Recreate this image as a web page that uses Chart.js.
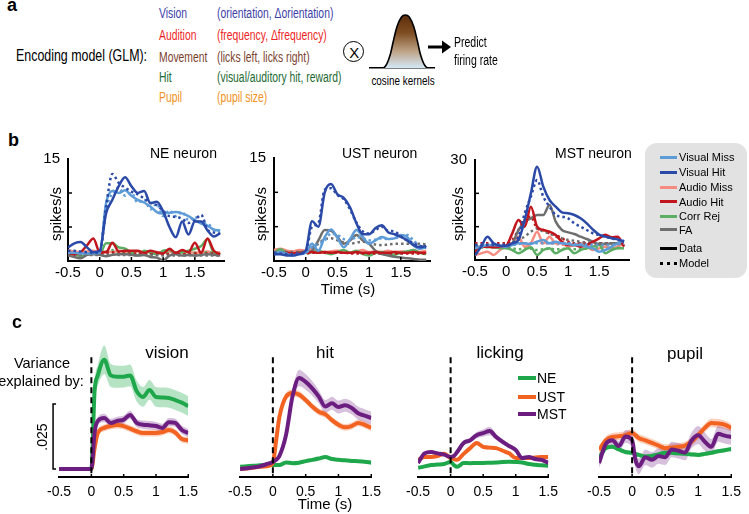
<!DOCTYPE html>
<html><head><meta charset="utf-8">
<script src="https://cdn.jsdelivr.net/npm/chart.js@4.4.1/dist/chart.umd.min.js"></script>
<style>
html,body{margin:0;padding:0;background:#fff;}
body{width:749px;height:514px;position:relative;overflow:hidden;font-family:"Liberation Sans",Arial,sans-serif;color:#000;}
.t{position:absolute;white-space:nowrap;line-height:1;}
canvas{position:absolute;}
</style></head><body>
<script>
// ---------------- DATA ----------------
// panel a: cosine kernel shape
const kernelLag = [-1.05,-0.66,-0.55,-0.45,-0.36,-0.25,-0.12,0,0.12,0.25,0.36,0.45,0.55,0.66,0.85];
const kernelWeight = [0,0,0.08,0.25,0.5,0.78,0.96,1,0.96,0.78,0.5,0.25,0.08,0,0];

// panel b: example neurons (spikes/s)
const bTime = [-0.5,-0.4,-0.3,-0.2,-0.1,0,0.1,0.2,0.3,0.4,0.5,0.6,0.7,0.8,0.9,1.0,1.1,1.2,1.3,1.4,1.5,1.6,1.7,1.8,1.9];
const bTicks = [-0.5,0,0.5,1,1.5];
const bTickLabels = ['-0.5','0','0.5','1','1.5'];

const neVisMiss      = [1.2,1.2,1.1,1.1,1.1,1.2,8.5,10.3,10,10.4,9.6,9,8.6,8,7.2,7,7.1,7.2,7,6.6,6,5.5,5.2,4.6,4.5];
const neVisMissModel = [1.3,1.3,1.2,1.2,1.2,1.3,7.5,10,10.8,9.6,10,8.6,9,7.6,8.4,6.6,7.4,6.6,7.2,6,6.5,5.6,5.5,4.6,4.4];
const neVisHit       = [2,2.6,2.8,2,1.3,1.5,7,9,11,12.3,11,10,10.3,8.5,8.7,7.3,5,3.5,5.8,3.9,5.8,5.8,4.5,3.6,4.1];
const neVisHitModel  = [1.5,1.5,1.4,1.3,1.2,1.3,8,12.8,11.5,10.8,10.2,9.8,9.2,8.6,8.2,7.4,6.6,6.5,6.2,5.6,6,6.8,4.6,4.2,4];
const neAudMiss      = [1.6,1.4,1.3,1.4,1.5,1.3,1.4,1.3,1.5,1.4,1.3,1.4,1.3,1.4,1.2,1.3,1.4,1.2,1.3,1.3,1.2,1.3,1.4,1.2,1.3];
const neAudMissModel = [1.4,1.3,1.3,1.3,1.3,1.3,1.3,1.2,1.3,1.3,1.3,1.3,1.2,1.3,1.2,1.3,1.3,1.2,1.2,1.3,1.2,1.2,1.3,1.2,1.2];
const neAudHit       = [1.2,1,1.3,2.3,3.3,1.3,1.3,2.7,1.4,1.5,1.5,1.5,1.2,1.5,1.3,1.1,1.8,1.2,1.6,1.3,2.7,1.2,3.3,1.5,1];
const neAudHitModel  = [1,1,1,1,1.1,1.1,1.2,1.3,1.1,1.1,1.1,1.1,1.1,1,1,1,1,1,1,1,1.1,1.1,1.1,1.1,1];
const neCorrRej      = [0.9,1,0.7,1,1.2,1,2.6,2.6,2,1.8,1.2,0.8,1.5,1.2,1,1.5,1.6,1.2,1.3,1.5,1.8,2.2,3.2,1.2,1];
const neCorrRejModel = [1,1,1,1,1,1,1.4,1.6,1.4,1.3,1.2,1.1,1.1,1.1,1.1,1.1,1.1,1.1,1.2,1.2,1.2,1.3,1.3,1.1,1];
const neFA           = [0.8,0.6,0.4,0.9,1,0.9,0.7,0.9,1,1,0.9,0.8,0.9,0.6,0.5,0.1,0.8,1,0.8,0.9,0.8,0.9,1,0.9,0.8];
const neFAModel      = [0.9,0.9,0.9,0.9,0.9,0.9,0.9,1,0.9,0.9,0.9,0.9,0.9,0.9,0.85,0.8,0.8,0.8,0.8,0.85,0.8,0.8,0.8,0.8,0.8];

const ustVisMiss      = [1.1,1.3,1,0.8,1,1.2,2.5,1.5,3.5,4.6,3.4,2,3.2,4.5,3.5,2.5,3,3.5,3.2,3.3,3.8,3.5,2.3,1.8,2];
const ustVisMissModel = [1.2,1.2,1.1,1,1.1,1.2,2,2.5,3,4,3.8,3.2,3,3.5,3.3,3,3.1,3.3,3.2,3.3,3.5,3.8,3,2.2,2];
const ustVisHit       = [1,1,0.8,0.8,1,1.5,5.8,5,10,11.2,9.7,9.2,7.8,5.5,3.9,3.9,4.8,5.2,4.2,3.9,3.5,3,2.3,2,2.2];
const ustVisHitModel  = [1.2,1.1,1,1,1.1,1.4,5,5.5,10.4,10.6,9.6,9,7.5,5.6,4.3,4,4.5,5,4.4,4.3,3.6,3,2.6,2.2,2];
const ustAudMiss      = [1.6,1.8,1.5,1.4,1.6,1.5,1.8,1.5,1.3,1.4,1.5,1.3,1.2,1.4,1.6,1.3,1.4,1.3,1.5,1.3,1.4,1.3,1.6,1.3,1.5];
const ustAudMissModel = [1.3,1.3,1.3,1.3,1.3,1.3,1.3,1.3,1.3,1.3,1.3,1.2,1.2,1.2,1.2,1.2,1.2,1.2,1.2,1.3,1.3,1.3,1.3,1.3,1.3];
const ustAudHit       = [1.2,1.1,1.2,1.1,1.2,1.2,1.3,1.2,1.3,1.2,1.3,1.2,1.2,1.3,1.2,1.2,1.3,1.2,1.2,1.3,1.2,1.2,1.3,1.2,1.2];
const ustAudHitModel  = [1.1,1.1,1.1,1.1,1.1,1.1,1.2,1.2,1.2,1.2,1.2,1.2,1.1,1.1,1.1,1.1,1.1,1.1,1.1,1.1,1.1,1.1,1.1,1.1,1.1];
const ustCorrRej      = [1.2,1.7,1.2,1,1.3,1.2,1.3,1.5,1.2,1,1.3,1.6,1.2,1.5,1,0.8,1.2,1.3,1,0.9,1.2,1.4,1.6,1.2,1];
const ustCorrRejModel = [1.1,1.2,1.1,1.1,1.1,1.1,1.2,1.2,1.2,1.1,1.2,1.2,1.2,1.2,1.1,1.1,1.1,1.1,1.1,1.1,1.1,1.2,1.2,1.1,1.1];
const ustFA           = [1,1.1,1.2,1,1.1,1.3,1.5,3,4.5,4.4,3.5,2.5,3,3.8,3,2.5,1.5,1,0.8,0.6,0.5,0.4,0.3,0.2,0.2];
const ustFAModel      = [1.3,1.3,1.3,1.3,1.3,1.5,2,2.5,3.2,3.3,3,2.7,2.5,2.7,2.8,2.6,2.4,2.3,2.4,2.5,2.5,2.5,2.5,2.5,2.4];

const mstVisMiss      = [3.5,4,4.5,4.5,4.2,4,4.5,5,5,4.8,5.5,6,5,5.5,5,4.8,4.5,4.5,4,3.5,2.5,3,4,5,6];
const mstVisMissModel = [4.5,4.5,4.5,4.5,4.5,4.5,4.5,4.8,5,5,5,5,5,5,5,5,4.8,4.8,4.6,4.6,4.5,4.5,4.5,4.8,5];
const mstVisHit       = [1.4,4,7,5,4.3,4.3,5,6,12,20,28,22,18,16,14.3,14,13.5,12.5,11,9.1,7.6,7,6.5,6.2,5.5];
const mstVisHitModel  = [4.5,4.5,4.5,4.5,4.5,4.5,5,7,14,19,24,19,16,13.5,13,12.5,11,10,9,8,7.5,7,6.5,6,5.5];
const mstAudMiss      = [1.5,2,2.5,1.5,3,4,5,7,4,5,8.5,5,7,5,5,4,4.5,5,4,3,3.5,4,3.5,4,5];
const mstAudMissModel = [3.5,3.8,4,4,4,4,4.5,5,5,5,5.5,5,5,4.8,4.6,4.5,4.5,4.5,4.5,4.5,4.5,4.5,4.5,4.5,4.5];
const mstAudHit       = [2.5,4,4,3.8,4,4.3,8,12,10,16,10,9,8.5,7.5,5.5,4.5,4.5,4,4.5,5.5,6.5,7.6,6.8,7,4];
const mstAudHitModel  = [5,5,5,5,5,5,6,9,12,13,9.5,9,8,7.5,6.5,5.5,5,5,5,5,5,5,5,5,5];
const mstCorrRej      = [3.5,3.8,4,3.8,3.6,3.5,3,2,3,3.8,1.5,3,3.5,2,3,3.5,2,3,3.5,4,4.5,2,3,3.5,3.5];
const mstCorrRejModel = [3.8,3.8,3.8,3.8,3.8,3.8,3.5,3.2,3.4,3.4,3,3.2,3.4,3.2,3.3,3.4,3.2,3.3,3.5,3.6,3.8,3.4,3.4,3.6,3.6];
const mstFA           = [4,4,4,4,4,4,5,9,11.5,12.5,13.5,13.5,16.5,11.5,9,8.3,7.8,7,6.3,5.5,4.8,4.8,5,5,5];
const mstFAModel      = [4,4,4,4,4,4,4.5,6,7,8.5,9.5,8.5,8,7,6.5,6,5.8,5.5,5.3,5.2,5,5,5,5,5];

// panel c: variance explained (units of 0.001)
const cTime = [-0.5,-0.4,-0.3,-0.2,-0.1,0,0.05,0.1,0.2,0.3,0.4,0.5,0.6,0.7,0.8,0.9,1.0,1.1,1.2,1.3,1.4,1.5];
const cTicks = [-0.5,0,0.5,1,1.5];
const cTickLabels = ['-0.5','0','0.5','1','1.5'];

const visionNE     = [0,0,0,0,0,0,30,36,42,36,35.5,35.5,36,30,27.7,30.4,27.7,27.5,27.3,26.5,25.5,24.2];
const visionNEErr  = [0,0,0,0,0,0,3,4,5.5,4.5,4.3,4.2,4.2,4,3.8,3.8,3.8,3.8,3.8,3.8,3.8,3.8];
const visionUST    = [0,0,0,0,0,0,8,13.8,15.8,16.5,16.9,16.5,15.5,14.5,13.8,13.8,13.8,14.2,15,14,11.5,11];
const visionUSTErr = [0,0,0,0,0,0,1,1.2,1.3,1.3,1.3,1.3,1.3,1.3,1.3,1.3,1.3,1.3,1.3,1.3,1.3,1.3];
const visionMST    = [0,0,0,0,0,0,14,18.5,19.6,17.7,18.5,19,20.8,17.7,17,16.8,16.5,15.8,18,17.7,15,13.8];
const visionMSTErr = [0,0,0,0,0,0,1.2,1.5,1.6,1.6,1.6,1.6,1.6,1.6,1.6,1.6,1.6,1.6,1.6,1.6,1.6,1.6];

const hitNE     = [0.8,1,1.2,1.4,1.5,1.5,1.5,1.5,2.5,2.2,2.4,3,3.5,4,4.6,3.8,3.5,3.3,3.1,3,2.8,2.4];
const hitNEErr  = [0.3,0.3,0.3,0.3,0.3,0.3,0.3,0.3,0.4,0.4,0.4,0.4,0.4,0.4,0.4,0.4,0.4,0.4,0.4,0.4,0.4,0.4];
const hitUST    = [0,0.2,0.5,0.8,1,2.3,11,20,27.8,29.2,28.6,26.5,24,22,21,18.8,17,16,16.5,17.7,17,15.8];
const hitUSTErr = [0.3,0.3,0.3,0.3,0.3,0.4,1,1.2,1.4,1.4,1.4,1.3,1.3,1.3,1.3,1.3,1.3,1.3,1.3,1.3,1.3,1.3];
const hitMST    = [0,0.3,0.6,1,1.8,2.7,3.5,5,13,28,35,33.5,31,27.8,24,25.3,23.8,24.5,23.5,21.4,20.5,19.6];
const hitMSTErr = [0.3,0.3,0.3,0.3,0.3,0.4,0.6,0.8,1.5,2.5,3.2,3,2.8,2.5,2.5,2.5,2.5,2.5,2.5,2.5,2.5,2.5];

const lickNE     = [0.4,1,1.5,1.7,1.9,2.7,1.5,0.8,2.3,2.2,2.3,2.3,2.4,2.5,2.7,2.8,2.7,2.5,1.9,1.6,1.4,1.2];
const lickNEErr  = [0.3,0.3,0.3,0.3,0.3,0.3,0.3,0.3,0.3,0.3,0.3,0.3,0.3,0.3,0.3,0.3,0.3,0.3,0.3,0.3,0.3,0.3];
const lickUST    = [3.5,4.6,4.6,5,5.8,4.2,3.8,3.5,5.8,8,10,8.5,8.2,8,7,6,4.2,4.2,4.2,4.4,4.6,4.6];
const lickUSTErr = [0.5,0.5,0.5,0.5,0.5,0.5,0.5,0.5,0.6,0.6,0.7,0.7,0.7,0.6,0.6,0.6,0.5,0.5,0.5,0.5,0.5,0.5];
const lickMST    = [2.3,6,6.5,6,5.5,4.6,5,6.5,10,11,13,13.8,14.6,12.3,10.4,8.8,7.3,4.2,4.6,3.8,3.5,2.3];
const lickMSTErr = [0.6,0.6,0.6,0.6,0.6,0.6,0.6,0.7,0.9,1,1.2,1.4,1.6,1.2,1,0.9,0.8,0.7,0.6,0.6,0.6,0.6];

const pupilNE     = [4.2,8,8.5,7.5,6.5,6.2,5.8,5.4,4.8,5,5.6,6.2,6.2,6,5.8,5.6,5.4,5.8,6.2,6.8,7.2,7.7];
const pupilNEErr  = [0.8,0.8,0.8,0.8,0.8,0.8,0.8,0.8,0.8,0.8,0.8,0.8,0.8,0.8,0.8,0.8,0.8,0.8,0.8,0.8,0.8,0.8];
const pupilUST    = [7.3,11,12.3,12.6,13,13.8,13,11.9,11,10,9,8,8.3,8.5,9,10.5,13,15.8,17.7,17.5,17,15.8];
const pupilUSTErr = [1.5,1.5,1.5,1.5,1.5,1.5,1.5,1.5,1.5,1.5,1.5,1.5,1.5,1.5,1.5,1.5,1.5,1.6,1.7,1.7,1.6,1.5];
const pupilMST    = [2.3,9.5,11,8.8,12.5,11,3.5,1,4.5,3.5,5,4.5,7.5,7,6.3,11,13,10.5,8.5,13.5,12.8,12.3];
const pupilMSTErr = [2,2,2,2,2.5,3,3,3,3,3,3,3,3,3,3,3,3.5,3.5,3,3,3,3];

// ---------------- STYLE ----------------
const COL = {vm:'#5e9cd8', vh:'#2b4aa8', am:'#f68b7f', ah:'#c1161d', cr:'#5bae63', fa:'#6e6e6e'};
const CC = {NE:'#1fa84b', UST:'#f26322', MST:'#6c1d80'};
const CB = {NE:'rgba(31,168,75,0.32)', UST:'rgba(242,99,34,0.30)', MST:'rgba(108,29,128,0.28)'};
const FONT = '"Liberation Sans", Arial, sans-serif';
Chart.defaults.font.family = FONT;
Chart.defaults.color = '#000';
Chart.defaults.animation = false;

const axisDecor = {
  id: 'axisDecor',
  afterDraw(chart, args, o) {
    if (!o) return;
    const ctx = chart.ctx, xs = chart.scales.x, ys = chart.scales.y, a = chart.chartArea;
    ctx.save();
    ctx.strokeStyle = '#000';
    ctx.lineWidth = 1.5;
    const len = o.len || 4;
    (o.xTicks || []).forEach(v => { const px = xs.getPixelForValue(v); ctx.beginPath(); ctx.moveTo(px, a.bottom + 1); ctx.lineTo(px, a.bottom - len); ctx.stroke(); });
    (o.yTicks || []).forEach(v => { const py = ys.getPixelForValue(v); ctx.beginPath(); ctx.moveTo(a.left - 1, py); ctx.lineTo(a.left + len, py); ctx.stroke(); });
    if (o.zeroDash) {
      const px = xs.getPixelForValue(0);
      ctx.setLineDash([6, 4]); ctx.lineWidth = 2;
      ctx.beginPath(); ctx.moveTo(px, ys.getPixelForValue(o.dashTop)); ctx.lineTo(px, a.bottom); ctx.stroke();
      ctx.setLineDash([]);
    }
    if (o.scaleBar) {
      const x = a.left - 6, y0 = ys.getPixelForValue(o.scaleBar[0]), y1 = ys.getPixelForValue(o.scaleBar[1]);
      ctx.lineWidth = 1.5;
      ctx.beginPath(); ctx.moveTo(x + 3, y0); ctx.lineTo(x, y0); ctx.lineTo(x, y1); ctx.lineTo(x + 3, y1); ctx.stroke();
    }
    ctx.restore();
  }
};
Chart.register(axisDecor);

function makeChart(rect, m, yAxisW, config) {
  const c = document.createElement('canvas');
  const W = rect.r - rect.l + m.l + m.r, H = rect.b - rect.t + m.t + m.b;
  c.width = Math.round(W); c.height = Math.round(H);
  c.style.left = (rect.l - m.l) + 'px'; c.style.top = (rect.t - m.t) + 'px';
  c.style.width = Math.round(W) + 'px'; c.style.height = Math.round(H) + 'px';
  document.body.appendChild(c);
  config.options.responsive = false;
  config.options.animation = false;
  config.options.events = [];
  config.options.layout = {padding: {left: m.l - yAxisW, top: m.t, right: m.r, bottom: 0}};
  return new Chart(c, config);
}

function txt(s, x, y, o) {
  o = o || {};
  const d = document.createElement('div');
  d.className = 't';
  d.textContent = s;
  d.style.left = x + 'px'; d.style.top = y + 'px';
  d.style.fontSize = (o.size || 14) + 'px';
  if (o.bold) d.style.fontWeight = 'bold';
  if (o.color) d.style.color = o.color;
  const sx = o.sx || 1;
  if (o.rot) { d.style.transformOrigin = 'center center'; d.style.transform = 'translate(-50%,-50%) rotate(-90deg)'; }
  else if (o.anchor === 'c') { d.style.transformOrigin = 'center center'; d.style.transform = 'translate(-50%,-50%) scaleX(' + sx + ')'; }
  else { d.style.transformOrigin = 'left center'; d.style.transform = 'translateY(-50%) scaleX(' + sx + ')'; }
  document.body.appendChild(d);
  return d;
}
function box(x, y, w, h, css) {
  const d = document.createElement('div');
  d.style.position = 'absolute';
  d.style.left = x + 'px'; d.style.top = y + 'px'; d.style.width = w + 'px'; d.style.height = h + 'px';
  Object.assign(d.style, css || {});
  document.body.appendChild(d);
  return d;
}

// ---------------- PANEL a ----------------
txt('a', 7, 4.5, {size:18, bold:true});
txt('Encoding model (GLM):', 16, 55, {size:17, sx:0.73});
const aRows = [
  ['Vision', '(orientation, \u0394orientation)', '#3d40a8', 13],
  ['Audition', '(frequency, \u0394frequency)', '#ec1f26', 35],
  ['Movement', '(licks left, licks right)', '#7b3f2e', 56.5],
  ['Hit', '(visual/auditory hit, reward)', '#1c6a32', 77],
  ['Pupil', '(pupil size)', '#f0921d', 97]
];
aRows.forEach(r => { txt(r[0], 159, r[3], {size:14, sx:0.74, color:r[2]}); txt(r[1], 217, r[3], {size:14, sx:0.74, color:r[2]}); });
box(343, 41, 19, 19, {border:'1.6px solid #000', borderRadius:'50%'});
txt('X', 354.3, 51.8, {size:15, anchor:'c'});
makeChart({l:370, r:434, t:14, b:68}, {l:2, t:2, r:2, b:2}, 0, {
  type: 'line',
  data: {datasets: [{
    data: kernelLag.map((t, i) => ({x: t, y: kernelWeight[i]})),
    borderColor: '#000', borderWidth: 1.6, pointRadius: 0, tension: 0.35,
    fill: 'origin',
    backgroundColor: (ctx) => {
      const ch = ctx.chart, ar = ch.chartArea;
      if (!ar) return '#a07040';
      const g = ch.ctx.createLinearGradient(0, ar.top, 0, ar.bottom);
      g.addColorStop(0, '#5a2c0a'); g.addColorStop(0.35, '#7e4d22'); g.addColorStop(0.7, '#bfa58a'); g.addColorStop(1, '#d4e9f8');
      return g;
    }
  }]},
  options: {
    plugins: {legend: {display: false}, tooltip: {enabled: false}, axisDecor: false},
    scales: {
      x: {type: 'linear', min: -1.05, max: 0.85, afterFit: s => { s.height = 2; },
          grid: {display: true, drawOnChartArea: false, drawTicks: false}, border: {display: true, color: '#000', width: 1.6},
          ticks: {display: false}},
      y: {display: false, min: 0, max: 1.02}
    }
  }
});
txt('cosine kernels', 403, 80, {size:13, sx:0.76, anchor:'c'});
(function(){
  const s = document.createElementNS('http://www.w3.org/2000/svg', 'svg');
  s.setAttribute('width', '30'); s.setAttribute('height', '16');
  s.style.position = 'absolute'; s.style.left = '428px'; s.style.top = '39px';
  s.innerHTML = '<line x1="0" y1="8" x2="16" y2="8" stroke="#000" stroke-width="3"/><polygon points="14,1.5 23,8 14,14.5" fill="#000"/>';
  document.body.appendChild(s);
})();
txt('Predict', 454, 42, {size:14, sx:0.75});
txt('firing rate', 454, 60, {size:14, sx:0.75});

// ---------------- PANEL b ----------------
txt('b', 8, 140, {size:18, bold:true});
function neuronChart(rect, xMax, yMax, yInner, S) {
  const spec = [
    [S.am, COL.am, false, 12], [S.amM, COL.am, true, 11],
    [S.cr, COL.cr, false, 10], [S.crM, COL.cr, true, 9],
    [S.fa, COL.fa, false, 6], [S.faM, COL.fa, true, 7],
    [S.ah, COL.ah, false, 5], [S.ahM, COL.ah, true, 8],
    [S.vm, COL.vm, false, 4], [S.vmM, COL.vm, true, 3],
    [S.vh, COL.vh, false, 1], [S.vhM, COL.vh, true, 2]
  ];
  const datasets = spec.map(s => ({
    data: bTime.map((t, i) => ({x: t, y: s[0][i]})),
    borderColor: s[1], borderWidth: 2.5, borderDash: s[2] ? [2.5, 3] : [],
    pointRadius: 0, fill: false, cubicInterpolationMode: 'monotone', order: s[3]
  }));
  return makeChart(rect, {l:30, t:12, r:4, b:25}, 30, {
    type: 'line',
    data: {datasets},
    options: {
      plugins: {legend: {display: false}, tooltip: {enabled: false}, axisDecor: {xTicks: [0, 0.5, 1, 1.5], yTicks: yInner, len: 4}},
      scales: {
        x: {type: 'linear', min: -0.5, max: xMax,
            afterBuildTicks: s => { s.ticks = bTicks.map(v => ({value: v})); },
            afterFit: s => { s.height = 25; },
            grid: {display: true, drawOnChartArea: false, drawTicks: false},
            border: {display: true, color: '#000', width: 2},
            ticks: {font: {size: 15}, padding: 3, maxRotation: 0, autoSkip: false,
                    callback: (v) => bTickLabels[bTicks.indexOf(v)]}},
        y: {type: 'linear', min: 0, max: yMax,
            afterBuildTicks: s => { s.ticks = [0, yMax].map(v => ({value: v})); },
            afterFit: s => { s.width = 30; },
            grid: {display: true, drawOnChartArea: false, drawTicks: false},
            border: {display: true, color: '#000', width: 2},
            ticks: {font: {size: 15}, padding: 8, callback: (v) => v === yMax ? String(yMax) : ''}}
      }
    }
  });
}
neuronChart({l:68, r:224, t:154, b:261}, 1.96, 15, [5, 10],
  {vm: neVisMiss, vmM: neVisMissModel, vh: neVisHit, vhM: neVisHitModel, am: neAudMiss, amM: neAudMissModel,
   ah: neAudHit, ahM: neAudHitModel, cr: neCorrRej, crM: neCorrRejModel, fa: neFA, faM: neFAModel});
neuronChart({l:274, r:430, t:153, b:261}, 1.96, 15, [5, 10],
  {vm: ustVisMiss, vmM: ustVisMissModel, vh: ustVisHit, vhM: ustVisHitModel, am: ustAudMiss, amM: ustAudMissModel,
   ah: ustAudHit, ahM: ustAudHitModel, cr: ustCorrRej, crM: ustCorrRejModel, fa: ustFA, faM: ustFAModel});
neuronChart({l:475, r:629, t:155, b:260}, 1.98, 30, [10, 20],
  {vm: mstVisMiss, vmM: mstVisMissModel, vh: mstVisHit, vhM: mstVisHitModel, am: mstAudMiss, amM: mstAudMissModel,
   ah: mstAudHit, ahM: mstAudHitModel, cr: mstCorrRej, crM: mstCorrRejModel, fa: mstFA, faM: mstFAModel});
txt('NE neuron', 150, 153, {size:14});
txt('UST neuron', 342, 153, {size:14});
txt('MST neuron', 555, 153, {size:14});
txt('spikes/s', 55, 214, {size:15, rot:true});
txt('spikes/s', 260, 214, {size:15, rot:true});
txt('spikes/s', 457, 214, {size:15, rot:true});
txt('Time (s)', 348, 288, {size:15, anchor:'c'});

// legend b
box(645, 143, 102, 135, {background:'#e2e2e2', borderRadius:'12px'});
const legB = [['Visual Miss', COL.vm, 157], ['Visual Hit', COL.vh, 172], ['Audio Miss', COL.am, 187],
              ['Audio Hit', COL.ah, 201.5], ['Corr Rej', COL.cr, 216], ['FA', COL.fa, 229.5]];
legB.forEach(r => { box(660, r[2] - 1.5, 17, 3, {background: r[1]}); txt(r[0], 679, r[2], {size:11}); });
box(660, 246.5, 17, 3, {background:'#000'});
txt('Data', 679, 248, {size:11});
box(660, 261.5, 17, 0, {borderTop:'3px dotted #000'});
txt('Model', 679, 263, {size:11});

// ---------------- PANEL c ----------------
txt('c', 12, 321.5, {size:18, bold:true});
function varChart(rect, S, extra) {
  const datasets = [];
  [['NE', 3], ['UST', 2], ['MST', 1]].forEach(([k, ord]) => {
    const v = S[k], e = S[k + 'Err'];
    datasets.push({data: cTime.map((t, i) => ({x: t, y: v[i] + e[i]})), borderWidth: 0, pointRadius: 0,
                   fill: '+1', backgroundColor: CB[k], cubicInterpolationMode: 'monotone', order: 10 + ord});
    datasets.push({data: cTime.map((t, i) => ({x: t, y: v[i] - e[i]})), borderWidth: 0, pointRadius: 0,
                   fill: false, cubicInterpolationMode: 'monotone', order: 10 + ord});
  });
  [['NE', 3], ['UST', 2], ['MST', 1]].forEach(([k, ord]) => {
    const v = S[k];
    datasets.push({data: cTime.map((t, i) => ({x: t, y: v[i]})), borderColor: CC[k], borderWidth: 4,
                   pointRadius: 0, fill: false, cubicInterpolationMode: 'monotone', order: ord,
                   borderJoinStyle: 'round'});
  });
  const deco = Object.assign({xTicks: [0, 0.5, 1, 1.5], len: 3, zeroDash: true, dashTop: 43}, extra || {});
  return makeChart(rect, {l:18, t:19, r:12, b:25}, 0, {
    type: 'line',
    data: {datasets},
    options: {
      plugins: {legend: {display: false}, tooltip: {enabled: false}, axisDecor: deco},
      scales: {
        x: {type: 'linear', min: -0.5, max: 1.5,
            afterBuildTicks: s => { s.ticks = cTicks.map(v => ({value: v})); },
            afterFit: s => { s.height = 25; },
            grid: {display: true, drawOnChartArea: false, drawTicks: false},
            border: {display: true, color: '#000', width: 2},
            ticks: {font: {size: 14}, padding: 7, maxRotation: 0, autoSkip: false,
                    callback: (v) => cTickLabels[cTicks.indexOf(v)]}},
        y: {display: false, min: -3.1, max: 50}
      }
    }
  });
}
varChart({l:58, r:193, t:339, b:477}, {NE: visionNE, NEErr: visionNEErr, UST: visionUST, USTErr: visionUSTErr, MST: visionMST, MSTErr: visionMSTErr}, {scaleBar: [0, 25]});
varChart({l:239, r:376, t:339, b:477}, {NE: hitNE, NEErr: hitNEErr, UST: hitUST, USTErr: hitUSTErr, MST: hitMST, MSTErr: hitMSTErr});
varChart({l:417, r:553, t:339, b:477}, {NE: lickNE, NEErr: lickNEErr, UST: lickUST, USTErr: lickUSTErr, MST: lickMST, MSTErr: lickMSTErr});
varChart({l:598, r:736, t:339, b:477}, {NE: pupilNE, NEErr: pupilNEErr, UST: pupilUST, USTErr: pupilUSTErr, MST: pupilMST, MSTErr: pupilMSTErr});

txt('vision', 167, 352, {size:17, anchor:'c'});
txt('hit', 325, 352, {size:17, anchor:'c'});
txt('licking', 500, 352, {size:17, anchor:'c'});
txt('pupil', 685, 353, {size:17, anchor:'c'});
txt('Variance', 42, 363, {size:14.5, anchor:'c'});
txt('explained by:', 41, 381, {size:14.5, anchor:'c'});
txt('.025', 42, 437, {size:14, rot:true});
txt('Time (s)', 325, 503, {size:15, anchor:'c'});
[['NE', CC.NE, 378], ['UST', CC.UST, 396.5], ['MST', CC.MST, 413.5]].forEach(r => {
  box(518, r[2] - 2, 18, 4, {background: r[1]});
  txt(r[0], 537, r[2], {size:14});
});
</script>
</body></html>
